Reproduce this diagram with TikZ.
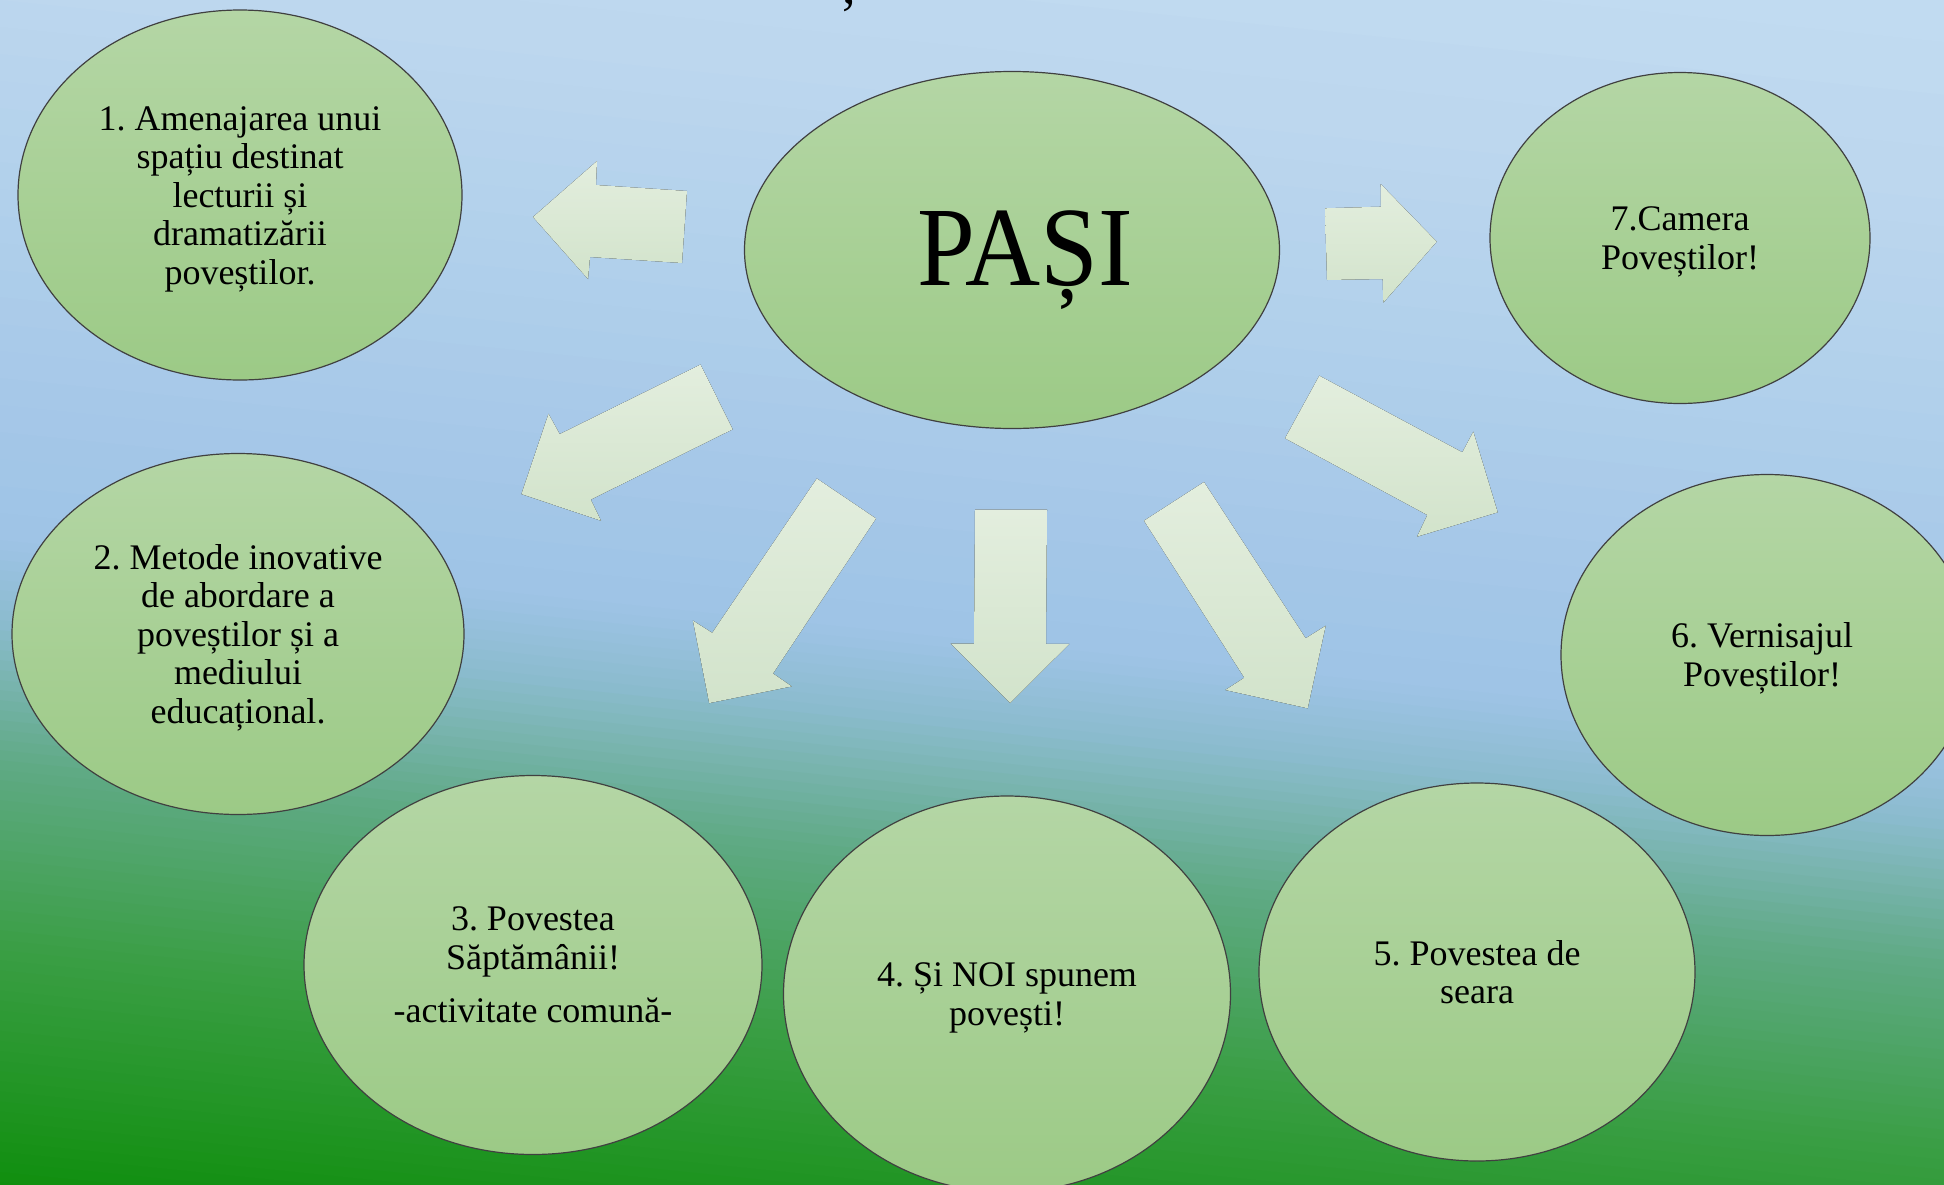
\documentclass[tikz,border=0pt]{standalone}
\usepackage{fontspec}
\setmainfont{Liberation Serif}
\usepackage{graphicx}
\usetikzlibrary{shapes.geometric}
\frenchspacing
\definecolor{bgA}{HTML}{C2DBF1}
\definecolor{bgB}{HTML}{BCD7EE}
\definecolor{bgC}{HTML}{9EC3E6}
\definecolor{bgD}{HTML}{8CBCCF}
\definecolor{bgE}{HTML}{60AA86}
\definecolor{bgF}{HTML}{3A9E44}
\definecolor{bgG}{HTML}{0F8E0D}
\definecolor{elTop}{HTML}{B4D6A5}
\definecolor{elBot}{HTML}{9CCA86}
\definecolor{arTop}{HTML}{E3EEDE}
\definecolor{arBot}{HTML}{D2E3CB}
\newcommand\bgseg[5]{%
  \foreach \k in {1,...,#5}{%
    \pgfmathsetmacro\bgua{#1+(#2-#1)*(\k-1)/#5}%
    \pgfmathsetmacro\bgub{#1+(#2-#1)*\k/#5+1.5}%
    \pgfmathsetmacro\bgpc{100*(\k-0.5)/#5}%
    \fill[#4!\bgpc!#3] (-2,\bgua) -- (1946,\bgua+200) -- (1946,\bgub+200) -- (-2,\bgub) -- cycle;
  }}
\newcommand\tsh{\rule{0pt}{32pt}}
\begin{document}
\begin{tikzpicture}[x=1pt,y=-1pt,
  bubble/.style={ellipse, draw=black!75, line width=1.2pt, top color=elTop, bottom color=elBot,
    inner sep=0pt, align=center, text=black, font=\fontsize{36}{38.5}\selectfont},
  blockarrow/.style={top color=arTop, bottom color=arBot, draw=none}]
\useasboundingbox (0,0) rectangle (1944,1184);
\clip (0,0) rectangle (1944,1184);
% background
\bgseg{-210}{0}{bgA}{bgB}{4}
\bgseg{0}{540}{bgB}{bgC}{20}
\bgseg{540}{620}{bgC}{bgD}{8}
\bgseg{620}{760}{bgD}{bgE}{14}
\bgseg{760}{950}{bgE}{bgF}{19}
\bgseg{950}{1192}{bgF}{bgG}{24}

% cropped mark at top
\node[font=\fontsize{54}{60}\selectfont, anchor=base, inner sep=0pt] (topmark) at (849,3) {,};

% block arrows
\fill[blockarrow] (533,217) -- (597,161) -- (596,185) -- (687,191) -- (682,263) -- (590,257) -- (588,279) -- cycle;
\fill[blockarrow] (521.4,494.1) -- (548.5,413.8) -- (559.7,434.1) -- (700.5,364.6) -- (732.7,429.3) -- (590.8,499.6) -- (601,520.7) -- cycle;
\fill[blockarrow] (709.2,703.1) -- (692.9,620.6) -- (712.2,632.8) -- (816.8,478.5) -- (876,518.5) -- (773,673.5) -- (791.8,686.4) -- cycle;
\fill[blockarrow] (1010,703) -- (950.5,643.5) -- (974,643.5) -- (975,509.6) -- (1047,509.6) -- (1046,643.9) -- (1069.4,643.9) -- cycle;
\fill[blockarrow] (1307.7,708.3) -- (1225.3,690) -- (1244.3,677.7) -- (1144,520.7) -- (1204,482) -- (1305.7,638.3) -- (1325.7,625.7) -- cycle;
\fill[blockarrow] (1497.7,512.3) -- (1473.3,431.7) -- (1462.3,452.3) -- (1319.3,375.7) -- (1285,438.3) -- (1427.3,515) -- (1417,536.7) -- cycle;
\fill[blockarrow] (1436.7,241.7) -- (1380.7,184) -- (1381,206.7) -- (1325,208.3) -- (1327,280) -- (1382.7,279) -- (1383.3,302.7) -- cycle;

% ellipses
\node[bubble, minimum width=535pt, minimum height=357pt, text height=76pt, text depth=6pt,
  font=\fontsize{113}{120}\selectfont] (center) at (1012,250) {\hspace*{26pt}\scalebox{0.92}[1]{PAȘI}};
\node[bubble, minimum width=444pt, minimum height=370pt] (s1) at (240,195)
  {\tsh1. Amenajarea unui\\spațiu destinat\\lecturii și\\dramatizării\\poveștilor.};
\node[bubble, minimum width=452pt, minimum height=361pt] (s2) at (238,634)
  {\tsh2. Metode inovative\\de abordare a\\poveștilor și a\\mediului\\educațional.};
\node[bubble, minimum width=458pt, minimum height=379pt] (s3) at (533,965)
  {3. Povestea\\Săptămânii!\\[15pt]-activitate comună-};
\node[bubble, minimum width=447pt, minimum height=396pt] (s4) at (1007,994)
  {\tsh4. Și NOI spunem\\povești!};
\node[bubble, minimum width=436pt, minimum height=378pt] (s5) at (1477,972)
  {5. Povestea de\\seara};
\node[bubble, minimum width=412pt, minimum height=361pt] (s6) at (1767,655)
  {\tsh\hspace*{-10pt}6. Vernisajul\\\hspace*{-10pt}Poveștilor!};
\node[bubble, minimum width=380pt, minimum height=331pt] (s7) at (1680,238)
  {\tsh7.Camera\\Poveștilor!};
\end{tikzpicture}
\end{document}
